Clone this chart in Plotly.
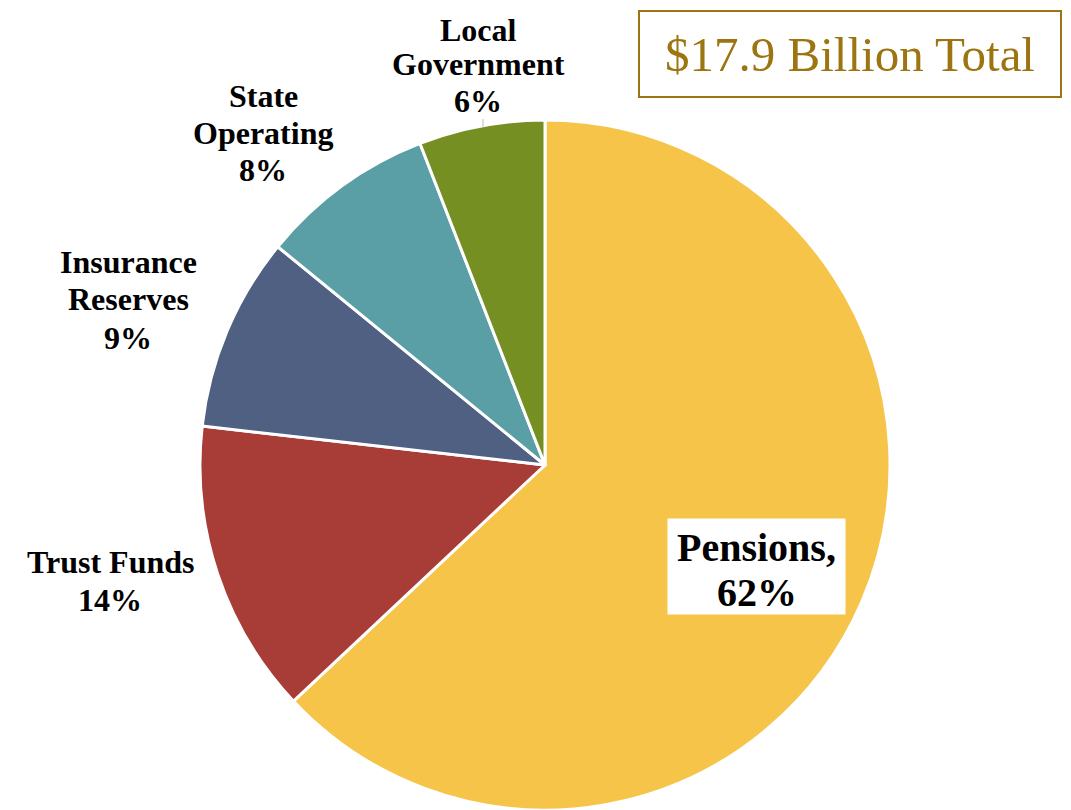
import plotly.graph_objects as go

W, H = 1071, 810

categories = ["Pensions", "Trust Funds", "Insurance Reserves", "State Operating", "Local Government"]
values = [63.0, 13.8, 9.1, 8.2, 5.9]
pct_labels = ["62%", "14%", "9%", "8%", "6%"]
colors = ["#F5C449", "#A83C36", "#506083", "#5A9EA6", "#768F23"]
total_label = "$17.9 Billion Total"

FONT = "Liberation Serif"

# page body has an 8px margin; compensate
OX, OY = 8, 8

cx, cy, r = 545 - OX, 465 - OY, 345


def px(x):
    return (x - OX) / W


def py(y):
    return 1 - (y - OY) / H


fig = go.Figure(go.Pie(
    labels=categories,
    values=values,
    sort=False,
    direction="clockwise",
    rotation=0,
    textinfo="none",
    hoverinfo="label+percent",
    marker=dict(colors=colors, line=dict(color="white", width=3)),
    domain=dict(x=[(cx - r) / W, (cx + r) / W], y=[1 - (cy + r) / H, 1 - (cy - r) / H]),
    showlegend=False,
))

anns = []
# Pensions label white box (drawn first)
anns.append(dict(
    x=px(756.5), y=py(566.5), xref="paper", yref="paper", text="",
    showarrow=False, xanchor="center", yanchor="middle",
    bgcolor="white", width=173, height=91, borderpad=2,
))

label_specs = [
    (["Local", "Government", pct_labels[4]], 478, [30, 64, 101], 32),
    (["State", "Operating", pct_labels[3]], 263, [96, 133, 170], 32),
    (["Insurance", "Reserves", pct_labels[2]], 128, [262, 299, 338], 32),
    (["Trust Funds", pct_labels[1]], 110, [562, 600], 32),
    ([categories[0] + ",", pct_labels[0]], 756.5, [547, 592], 40),
]
for lines, x, ys, size in label_specs:
    for t, y in zip(lines, ys):
        anns.append(dict(
            x=px(x), y=py(y), xref="paper", yref="paper", text="<b>" + t + "</b>",
            showarrow=False, xanchor="center", yanchor="middle",
            font=dict(family=FONT, size=size, color="black"), align="center",
        ))

# Total box
anns.append(dict(
    x=px(850), y=py(54), xref="paper", yref="paper",
    text=total_label, showarrow=False, xanchor="center", yanchor="middle",
    font=dict(family=FONT, size=49, color="#9C7410"),
    bordercolor="#9C7410", borderwidth=2, bgcolor="white",
    width=418, height=82, borderpad=1,
))

shapes = [dict(type="line", xref="paper", yref="paper",
               x0=px(483), x1=px(483), y0=py(119), y1=py(127),
               line=dict(color="#BBBBBB", width=1))]

fig.update_layout(
    width=W, height=H,
    margin=dict(l=0, r=0, t=0, b=0),
    paper_bgcolor="white", plot_bgcolor="white",
    annotations=anns, shapes=shapes,
)

fig.write_html("out.html")
